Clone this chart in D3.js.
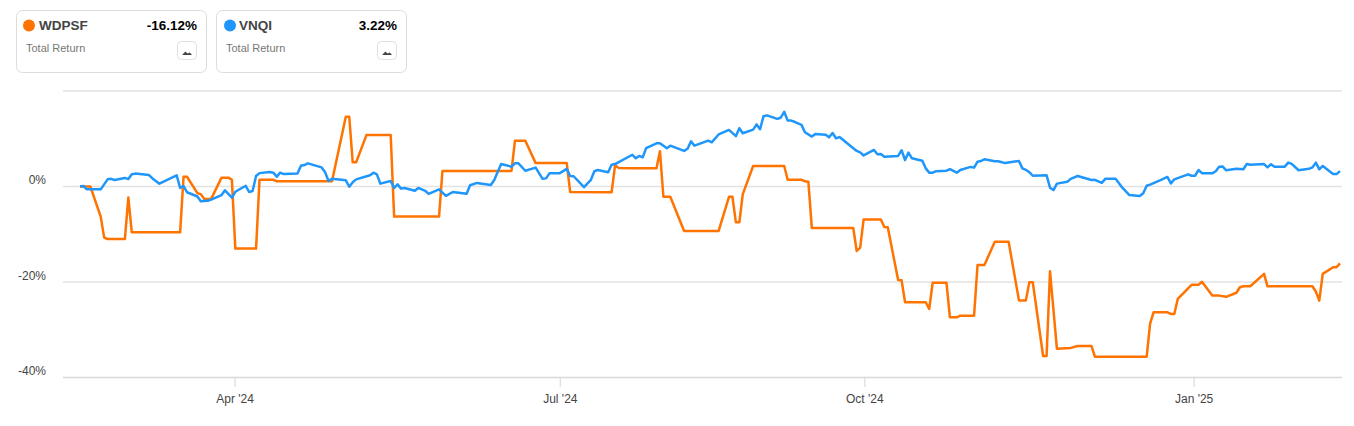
<!DOCTYPE html>
<html>
<head>
<meta charset="utf-8">
<script src="https://cdn.jsdelivr.net/npm/d3@7/dist/d3.min.js"></script>
<style>
html,body{margin:0;padding:0;background:#fff;overflow:hidden}
svg{display:block;font-family:"Liberation Sans",Arial,sans-serif}
</style>
</head>
<body>
<svg id="chart" width="1354" height="426"></svg>
<script>
// Calendar-day index since the start of the chart, and total return in %
const wdpsfDays = [0,3,6,7,8,13,14,15,29,30,31,34,35,36,38,41,43,44,45,51,52,56,57,73,77,78,79,80,83,90,91,104,105,125,126,129,132,141,142,154,155,156,160,167,168,169,171,175,185,188,189,190,191,192,195,204,205,209,210,211,212,224,225,226,227,232,233,234,237,238,239,245,246,247,251,252,254,255,259,260,262,265,269,272,274,275,276,279,280,281,283,287,289,293,294,309,310,311,315,316,317,318,322,324,325,328,330,332,335,336,337,339,343,344,357,358,359,360,363,364,365];
const wdpsfValues = [0,0,-6.3,-10.7,-11,-11,-2.3,-9.6,-9.6,2.05,2.05,-1.4,-1.6,-2.6,-2.6,1.85,1.85,1.4,-13,-13,1.4,1.4,1.1,1.1,14.6,14.6,5.07,5.07,10.8,10.8,-6.3,-6.3,3.25,3.25,9.6,9.6,4.9,4.9,-1.15,-1.2,4.45,3.9,3.8,3.8,7.4,-2.15,-2.15,-9.3,-9.3,-2.15,-2.15,-7.5,-7.5,-1.6,4.3,4.3,1.4,1.4,1.1,1,-8.7,-8.7,-13.5,-12.8,-6.9,-6.9,-8.5,-8.55,-19.6,-19.65,-24.25,-24.25,-25.65,-20.15,-20.15,-27.4,-27.4,-27.05,-27.05,-16.45,-16.45,-11.55,-11.55,-23.85,-23.85,-20.05,-20.05,-35.5,-35.5,-17.75,-34,-33.8,-33.4,-33.4,-35.65,-35.65,-28.65,-26.35,-26.35,-26.7,-26.7,-23.55,-20.6,-20.6,-19.95,-22.85,-22.85,-23.1,-22.25,-21.1,-20.9,-20.9,-18.3,-20.9,-20.9,-22,-23.9,-18.3,-16.9,-16.9,-16.12];
const vnqiDays = [0,1,2,6,8,9,10,13,14,15,16,20,21,23,28,29,30,31,34,35,37,38,41,42,44,45,48,49,50,51,52,55,56,57,58,59,63,64,65,66,70,71,72,73,77,78,79,80,84,85,86,87,90,91,92,93,94,97,98,100,101,104,106,108,112,113,115,119,120,122,125,126,127,129,132,134,135,136,139,141,142,143,146,148,149,150,153,154,155,160,161,162,163,164,167,168,170,171,175,176,177,178,182,183,185,188,190,191,192,195,196,197,198,199,202,203,204,205,206,207,209,210,212,213,216,217,218,219,220,225,226,227,230,231,232,233,237,238,239,240,241,244,245,246,247,248,251,252,254,255,258,259,260,261,262,265,266,268,272,273,274,275,276,280,281,282,283,286,287,289,293,294,296,297,300,302,304,307,308,309,310,313,315,316,317,321,322,323,324,325,328,329,330,331,332,335,337,338,339,343,344,345,346,349,350,351,353,356,357,358,359,360,363,364,365];
const vnqiValues = [0,0.1,-0.6,-0.6,1.5,1.6,1.35,1.8,1.55,2.55,2.7,2.4,1.7,0.6,2.35,-0.3,0.1,-1.2,-2.1,-3.1,-3,-2.75,-1.8,-0.8,-2.35,-1.1,0.15,-1.15,-0.95,2.2,2.8,3.05,2.9,2.05,2.9,2.6,2.7,4.35,4.5,4.85,4,3,1.15,1.6,1.3,-0.05,0.9,1.5,2.35,2.9,2.55,0.6,1.15,-0.3,0.45,-0.45,-0.3,-0.9,-0.3,-0.9,-1.55,-0.6,-1.95,-1.15,-1.5,0.25,0.75,0.3,1.35,4.7,4.15,4.85,4.85,3.3,3.95,1.6,1.7,2.75,2.8,3.7,2.2,2.15,-0.15,1.4,3.2,3.45,3,4.55,4.7,6.65,5.9,6.4,6.1,8.05,9.05,9.05,8,8.55,7.45,7.9,9.45,8.55,9.6,9.25,10.9,11.85,10.55,12.2,11.15,11.9,13,12,14.7,14.9,14.15,14.4,15.65,13.8,13.8,13.55,12.9,11.35,10.45,11,10.85,10.3,11.2,10.1,10.35,7.45,7.15,6.5,7.65,6.75,6.8,6.25,6.4,7.6,5.55,7.1,5.9,5.4,3.8,2.9,2.9,3.2,3.3,3.65,2.9,3.45,4.1,3.95,5.2,5.35,5.7,5.3,5.3,4.9,5.35,3.8,3.5,3,2.25,2.35,-0.25,-0.75,0.6,1,1.6,2.2,1.35,1.4,0.75,1.6,1.6,-0.3,-1.8,-2,-1.4,0.15,0.4,1.35,2,0.65,1.5,2.55,2.25,2.25,3.45,2.8,2.75,3.2,4.15,4.2,3.4,3.7,3.6,4.7,4.55,4.7,4,4.65,4.15,4.15,5,4.75,3.4,3.7,4,5,3.6,4.3,2.6,2.6,3.22];
const yTickValues = [20,0,-20,-40];
const xTickDays = [44.8,139,227.2,322.6];
const xTickLabels = ["Apr '24","Jul '24","Oct '24","Jan '25"];
const cardNames = ["WDPSF","VNQI"];
const cardReturns = ["-16.12%","3.22%"];
const cardColors = ["#ff7300","#1e96fc"];
const cardSubtitle = "Total Return";
const sparkShape = [[0,3],[1.5,1.5],[3,0],[4.5,1.5],[5.5,2],[7,1],[9,2.5],[9,3.5],[0,3.5]];

const svg = d3.select("#chart");
const x = d3.scaleLinear().domain([0,365]).range([80,1340]);
const y = d3.scaleLinear().domain([20,-40]).range([91,377.5]);
const gridLeft = 63, gridRight = 1342;

// Gridlines and y labels
const yAxis = svg.append("g");
yAxis.selectAll("line").data(yTickValues).join("line")
  .attr("x1",gridLeft).attr("x2",gridRight)
  .attr("y1",d=>y(d)).attr("y2",d=>y(d))
  .attr("stroke",d=>d===-40?"#d8d8d8":"#e2e2e2").attr("stroke-width",1.5);
yAxis.selectAll("text").data(yTickValues.filter(d=>d!==20)).join("text")
  .attr("x",46).attr("y",d=>y(d)-2.5).attr("text-anchor","end")
  .attr("font-size",12).attr("fill","#444")
  .text(d=>d+"%");

// X ticks
const xAxis = d3.axisBottom(x).tickValues(xTickDays)
  .tickFormat((d,i)=>xTickLabels[i]).tickSize(9).tickPadding(7);
const gx = svg.append("g").attr("transform",`translate(0,378)`).call(xAxis);
gx.select(".domain").remove();
gx.selectAll(".tick line").attr("stroke","#e2e2e2").attr("stroke-width",1.5);
gx.selectAll(".tick text").attr("font-size",12).attr("fill","#444")
  .attr("font-family",'"Liberation Sans",Arial,sans-serif');

// Series
const line = d3.line().x(d=>x(d[0])).y(d=>y(d[1]));
svg.append("path").datum(d3.zip(wdpsfDays,wdpsfValues)).attr("d",line)
  .attr("fill","none").attr("stroke",cardColors[0]).attr("stroke-width",2.5).attr("stroke-linejoin","round");
svg.append("path").datum(d3.zip(vnqiDays,vnqiValues)).attr("d",line)
  .attr("fill","none").attr("stroke",cardColors[1]).attr("stroke-width",2.5).attr("stroke-linejoin","round");

// Legend cards
const cards = svg.selectAll("g.card").data(cardNames).join("g").attr("class","card")
  .attr("transform",(d,i)=>`translate(${16.5+i*200},10.5)`);
cards.append("rect").attr("width",190).attr("height",62).attr("rx",6)
  .attr("fill","#fff").attr("stroke","#dcdcdc");
cards.append("circle").attr("cx",(d,i)=>12.5+i).attr("cy",15).attr("r",6)
  .attr("fill",(d,i)=>cardColors[i]);
cards.append("text").attr("x",22.5).attr("y",19).attr("font-size",13.5).attr("font-weight","bold")
  .attr("fill","#444").text(d=>d);
cards.append("text").attr("x",180.5).attr("y",19).attr("text-anchor","end").attr("font-size",13.5)
  .attr("font-weight","bold").attr("fill","#000").text((d,i)=>cardReturns[i]);
cards.append("text").attr("x",9.5).attr("y",41).attr("font-size",11).attr("fill","#777").text(cardSubtitle);
cards.append("rect").attr("x",161).attr("y",31).attr("width",19).attr("height",18).attr("rx",4)
  .attr("fill","#fff").attr("stroke","#e0e0e0");
cards.append("path").attr("transform","translate(166,41)")
  .attr("d",d3.line()(sparkShape)+"Z").attr("fill","#444");
</script>
</body>
</html>
